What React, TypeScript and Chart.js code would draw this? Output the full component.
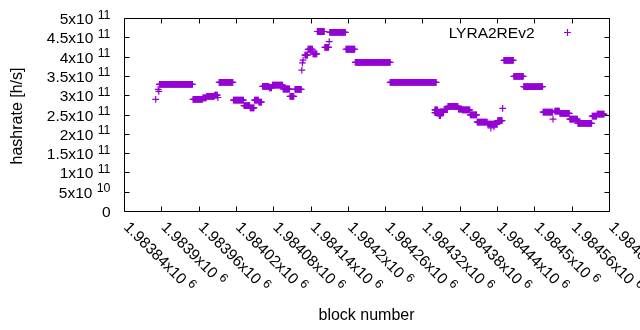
import React, { useEffect, useRef } from "react";
import { Chart, registerables } from "chart.js";

Chart.register(...registerables);

// ---- data ----
const seriesLabel = "LYRA2REv2";
const xTitle = "block number";
const yTitle = "hashrate [h/s]";

// Each run: consecutive blocks [segStart, segEnd] that share one hashrate estimate (x 1e11 h/s)
const segStart = [
  1983891, 1983895, 1983896, 1983897, 1983951, 1983967, 1983973, 1983986, 1983991, 1983993,
  1984016, 1984033, 1984043, 1984050, 1984057, 1984063, 1984074, 1984079, 1984096, 1984107,
  1984115, 1984126, 1984127, 1984128, 1984131, 1984136, 1984144, 1984151, 1984163, 1984170,
  1984171, 1984197, 1984212, 1984268, 1984340, 1984344, 1984347, 1984349, 1984355, 1984361,
  1984378, 1984384, 1984397, 1984408, 1984425, 1984430, 1984435, 1984441, 1984449, 1984451,
  1984467, 1984483, 1984514, 1984530, 1984533, 1984541, 1984557, 1984570, 1984593, 1984601,
];
const segEnd = [
  1983891, 1983895, 1983896, 1983950, 1983966, 1983972, 1983985, 1983990, 1983991, 1984015,
  1984032, 1984042, 1984049, 1984056, 1984061, 1984073, 1984077, 1984095, 1984106, 1984113,
  1984125, 1984126, 1984127, 1984128, 1984135, 1984143, 1984150, 1984162, 1984169, 1984170,
  1984196, 1984211, 1984268, 1984342, 1984344, 1984348, 1984349, 1984354, 1984360, 1984377,
  1984383, 1984396, 1984407, 1984424, 1984440, 1984430, 1984435, 1984448, 1984449, 1984466,
  1984482, 1984513, 1984529, 1984530, 1984540, 1984556, 1984569, 1984592, 1984600, 1984612,
];
const segHashrate = [
  2.89, 3.15, 3.1, 3.28, 2.89, 2.93, 2.97, 3.0, 2.94, 3.33,
  2.87, 2.73, 2.67, 2.87, 2.82, 3.23, 3.19, 3.26, 3.16, 2.97,
  3.15, 3.65, 3.84, 3.91, 4.04, 4.19, 4.07, 4.65, 4.24, 4.39,
  4.63, 4.19, 3.85, 3.33, 2.62, 2.56, 2.47, 2.57, 2.63, 2.71,
  2.64, 2.62, 2.49, 2.3, 2.25, 2.15, 2.18, 2.34, 2.66, 3.9,
  3.49, 3.22, 2.56, 2.38, 2.59, 2.53, 2.38, 2.27, 2.46, 2.51,
];
// the first wave run, overlapping the end of the 3.33 plateau
const extraStart = [1984340];
const extraEnd = [1984346];
const extraHashrate = [2.55];

const X_MIN = 1983840;
const X_MAX = 1984620;
const X_STEP = 60;
const Y_MIN = 0;
const Y_MAX = 5e11;
const Y_STEP = 5e10;

const COLOR = "#9400d3";
const FONT = '"Liberation Sans", Arial, sans-serif';
const TICK_PX = 15.5;
const EXP_PX = 12.4;
const TITLE_PX = 16;

function sci(v: number): [string, string] {
  if (v === 0) return ["0", ""];
  const e = Math.floor(Math.log10(Math.abs(v)) + 1e-9);
  const m = parseFloat((v / Math.pow(10, e)).toPrecision(6));
  return [`${m}x10`, `${e}`];
}

const gnuplotPlugin = {
  id: "gnuplotFrame",
  beforeDatasetsDraw(chart: any) {
    const ctx = chart.ctx as CanvasRenderingContext2D;
    const { left, right, top, bottom } = chart.chartArea;
    ctx.save();
    ctx.strokeStyle = "#000";
    ctx.lineWidth = 1;
    const L = Math.round(left) + 0.5;
    const R = Math.round(right) + 0.5;
    const T = Math.round(top) + 0.5;
    const B = Math.round(bottom) + 0.5;
    ctx.beginPath();
    ctx.rect(L, T, R - L, B - T);
    const tl = 5;
    chart.scales.y.ticks.forEach((t: any) => {
      const py = Math.round(chart.scales.y.getPixelForValue(t.value)) + 0.5;
      ctx.moveTo(L, py);
      ctx.lineTo(L + tl, py);
      ctx.moveTo(R, py);
      ctx.lineTo(R - tl, py);
    });
    chart.scales.x.ticks.forEach((t: any) => {
      const px = Math.round(chart.scales.x.getPixelForValue(t.value)) + 0.5;
      ctx.moveTo(px, B);
      ctx.lineTo(px, B - tl);
      ctx.moveTo(px, T);
      ctx.lineTo(px, T + tl);
    });
    ctx.stroke();
    ctx.restore();
  },
  afterDraw(chart: any) {
    const ctx = chart.ctx as CanvasRenderingContext2D;
    const { left, right, bottom } = chart.chartArea;
    ctx.save();
    ctx.fillStyle = "#000";
    ctx.textBaseline = "alphabetic";
    ctx.textAlign = "left";
    const mainFont = `${TICK_PX}px ${FONT}`;
    const expFont = `${EXP_PX}px ${FONT}`;

    // y tick labels
    const anchorX = left - 13.5;
    chart.scales.y.ticks.forEach((t: any) => {
      const py = chart.scales.y.getPixelForValue(t.value);
      const [m, e] = sci(t.value);
      let x = anchorX;
      if (e) {
        ctx.font = expFont;
        const ew = ctx.measureText(e).width;
        ctx.fillText(e, x - ew, py + 0.5);
        ctx.font = mainFont;
        x -= ew + ctx.measureText(" ").width;
      }
      ctx.font = mainFont;
      const mw = ctx.measureText(m).width;
      ctx.fillText(m, x - mw, py + 6);
    });

    // x tick labels, rotated
    chart.scales.x.ticks.forEach((t: any) => {
      const px = chart.scales.x.getPixelForValue(t.value);
      const [m, e] = sci(t.value);
      ctx.save();
      ctx.translate(px + 3, bottom + 13);
      ctx.rotate(Math.PI / 4);
      ctx.font = mainFont;
      ctx.fillText(m, 0, 5.5);
      const mw = ctx.measureText(m).width + ctx.measureText(" ").width;
      ctx.font = expFont;
      ctx.fillText(e, mw, 0);
      ctx.restore();
    });

    // axis titles
    ctx.font = `${TITLE_PX}px ${FONT}`;
    ctx.textAlign = "center";
    ctx.fillText(xTitle, (left + right) / 2, 320);
    ctx.save();
    ctx.translate(22, 116);
    ctx.rotate(-Math.PI / 2);
    ctx.fillText(yTitle, 0, 0);
    ctx.restore();

    // legend
    ctx.font = `${TICK_PX}px ${FONT}`;
    ctx.textAlign = "right";
    ctx.fillText(seriesLabel, 534.5, 37.5);
    ctx.strokeStyle = COLOR;
    ctx.lineWidth = 1.2;
    ctx.beginPath();
    ctx.moveTo(567.5 - 3.4, 32.5);
    ctx.lineTo(567.5 + 3.4, 32.5);
    ctx.moveTo(567.5, 32.5 - 3.4);
    ctx.lineTo(567.5, 32.5 + 3.4);
    ctx.stroke();
    ctx.restore();
  },
};

export default function App() {
  const ref = useRef<HTMLCanvasElement>(null);
  useEffect(() => {
    document.body.style.margin = "0";
    const canvas = ref.current!;
    const points: { x: number; y: number }[] = [];
    const addRuns = (s: number[], en: number[], h: number[]) => {
      for (let i = 0; i < s.length; i++) {
        for (let b = s[i]; b <= en[i]; b++) points.push({ x: b, y: h[i] * 1e11 });
      }
    };
    addRuns(segStart, segEnd, segHashrate);
    addRuns(extraStart, extraEnd, extraHashrate);
    const chart = new Chart(canvas, {
      type: "scatter",
      data: {
        datasets: [
          {
            label: seriesLabel,
            data: points,
            pointStyle: "cross",
            pointRadius: 3.4,
            pointBorderWidth: 1.2,
            borderColor: COLOR,
            backgroundColor: COLOR,
            showLine: false,
            clip: false,
          } as any,
        ],
      },
      options: {
        responsive: false,
        animation: false,
        events: [],
        layout: { padding: { left: 124, right: 31, top: 18, bottom: 119 } },
        plugins: { legend: { display: false }, tooltip: { enabled: false } },
        scales: {
          x: {
            type: "linear",
            min: X_MIN,
            max: X_MAX,
            ticks: { display: false, stepSize: X_STEP, padding: 0 },
            grid: { display: false },
            border: { display: false },
            afterFit: (s: any) => {
              s.height = 0;
              s.paddingLeft = 0;
              s.paddingRight = 0;
            },
          },
          y: {
            type: "linear",
            min: Y_MIN,
            max: Y_MAX,
            ticks: { display: false, stepSize: Y_STEP, padding: 0 },
            grid: { display: false },
            border: { display: false },
            afterFit: (s: any) => {
              s.width = 0;
              s.paddingTop = 0;
              s.paddingBottom = 0;
            },
          },
        },
      },
      plugins: [gnuplotPlugin],
    });
    return () => chart.destroy();
  }, []);
  return <canvas ref={ref} width={640} height={330} style={{ display: "block" }} />;
}
